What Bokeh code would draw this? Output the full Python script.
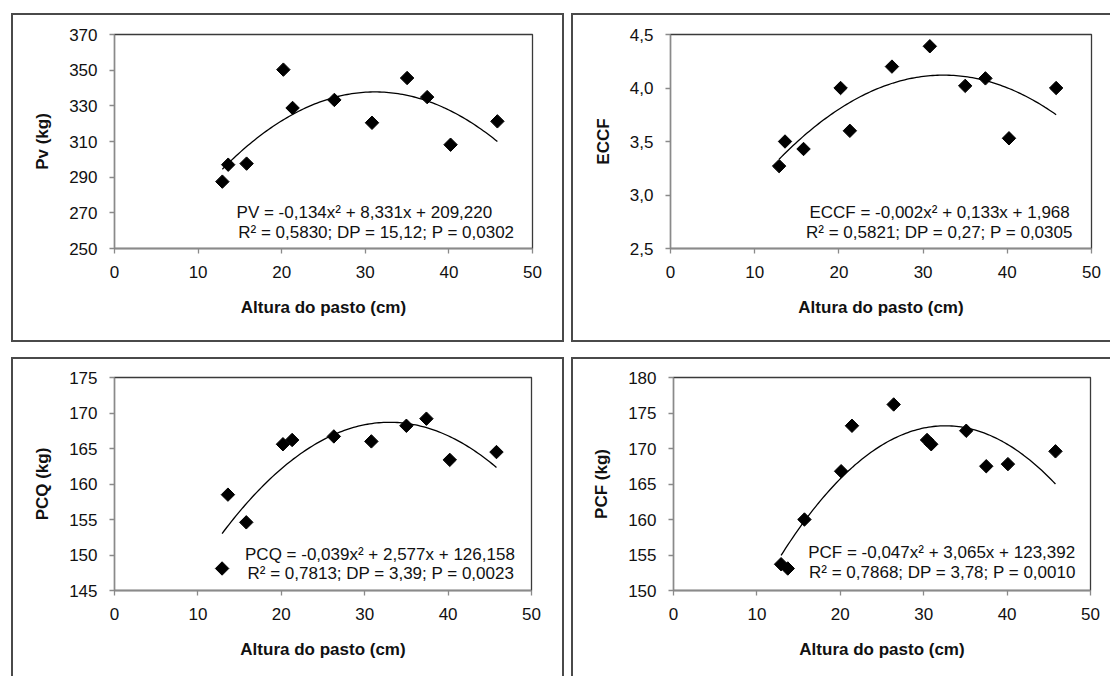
import numpy as np
from bokeh.plotting import figure
from bokeh.models import Range1d, FixedTicker, Label
from bokeh.layouts import row, column
from bokeh.embed import file_html
from bokeh.resources import INLINE

# ---------------- data ----------------
altura = [12.9, 13.6, 15.8, 20.2, 21.3, 26.3, 30.8, 35.0, 37.4, 40.2, 45.8]
pv = [287.5, 297.0, 297.6, 350.3, 328.8, 333.3, 320.5, 345.6, 334.9, 308.2, 321.3]
eccf = [3.27, 3.50, 3.43, 4.00, 3.60, 4.20, 4.39, 4.02, 4.09, 3.53, 4.00]
pcq = [148.1, 158.5, 154.6, 165.6, 166.2, 166.7, 166.0, 168.2, 169.2, 163.4, 164.5]
altura_pcf = [12.9, 13.7, 15.7, 20.1, 21.4, 26.4, 30.4, 30.9, 35.1, 37.5, 40.1, 45.8]
pcf = [153.7, 153.1, 160.0, 166.8, 173.2, 176.2, 171.2, 170.6, 172.5, 167.5, 167.8, 169.6]

x_ticks = [0, 10, 20, 30, 40, 50]
pv_ticks = [250, 270, 290, 310, 330, 350, 370]
eccf_ticks = [2.5, 3.0, 3.5, 4.0, 4.5]
eccf_tick_labels = ["2,5", "3,0", "3,5", "4,0", "4,5"]
pcq_ticks = [145, 150, 155, 160, 165, 170, 175]
pcf_ticks = [150, 155, 160, 165, 170, 175, 180]

x_title = "Altura do pasto (cm)"
pv_eq = ["PV = -0,134x\u00b2 + 8,331x + 209,220", "R\u00b2 = 0,5830; DP = 15,12; P = 0,0302"]
eccf_eq = ["ECCF = -0,002x\u00b2 + 0,133x + 1,968", "R\u00b2 = 0,5821; DP = 0,27; P = 0,0305"]
pcq_eq = ["PCQ = -0,039x\u00b2 + 2,577x + 126,158", "R\u00b2 = 0,7813; DP = 3,39; P = 0,0023"]
pcf_eq = ["PCF = -0,047x\u00b2 + 3,065x + 123,392", "R\u00b2 = 0,7868; DP = 3,78; P = 0,0010"]

FONT = "Liberation Sans"
BORDER = "2px solid #4a4a4a"


def panel(xs, ys, yr, yticks, ylabels, ytitle, eq, eq_pos, w, h, mb, margin, borders):
    p = figure(width=w, height=h, x_range=Range1d(0, 50), y_range=Range1d(*yr),
               output_backend="svg", toolbar_location=None,
               min_border_left=mb[0], min_border_right=mb[1],
               min_border_top=mb[2], min_border_bottom=mb[3],
               background_fill_color="white", border_fill_color="white",
               x_axis_label=x_title, y_axis_label=ytitle)
    p.outline_line_color = "#3a3a3a"
    p.outline_line_width = 1.3
    p.grid.visible = False
    p.xaxis.ticker = FixedTicker(ticks=x_ticks)
    p.yaxis.ticker = FixedTicker(ticks=yticks)
    if ylabels is not None:
        p.yaxis.major_label_overrides = {t: l for t, l in zip(yticks, ylabels)}
    for ax in (p.xaxis, p.yaxis):
        ax.axis_line_color = "#8a8a8a"
        ax.axis_line_width = 1.3
        ax.major_tick_line_color = "#8a8a8a"
        ax.major_tick_line_width = 1.3
        ax.major_tick_out = 5
        ax.major_tick_in = 0
        ax.minor_tick_line_color = None
        ax.major_label_text_font = FONT
        ax.major_label_text_font_size = "17px"
        ax.major_label_text_color = "#111111"
        ax.axis_label_text_font = FONT
        ax.axis_label_text_font_size = "17px"
        ax.axis_label_text_font_style = "bold"
        ax.axis_label_text_color = "#111111"
        ax.major_label_standoff = 12
    p.xaxis.axis_label_standoff = 17
    p.yaxis.axis_label_standoff = 14

    # trend line: least-squares quadratic of the plotted points
    coef = np.polyfit(xs, ys, 2)
    xc = np.linspace(min(xs), max(xs), 120)
    p.line(xc, np.polyval(coef, xc), line_color="black", line_width=1.3)

    p.scatter(xs, ys, marker="square", angle=np.pi / 4, size=9.5,
              fill_color="black", line_color="black")

    for i, txt in enumerate(eq):
        p.add_layout(Label(x=eq_pos[i][0], y=eq_pos[i][1], text=txt,
                           text_font=FONT, text_font_size="17px",
                           text_color="#111111", text_baseline="middle",
                           text_align="left"))
    p.margin = margin
    st = {"box-sizing": "content-box"}
    st.update(borders)
    p.styles = st
    return p


p1 = panel(altura, pv, (250, 370), pv_ticks, None, "Pv (kg)", pv_eq,
           [(14.6, 270.4), (14.8, 259.1)], 549, 325, (101, 34, 19, 96),
           (13, 0, 0, 11), {"border": BORDER})
p2 = panel(altura, eccf, (2.5, 4.5), eccf_ticks, eccf_tick_labels, "ECCF", eccf_eq,
           [(16.5, 2.84), (16.1, 2.65)], 537, 325, (97, 21, 19, 96),
           (13, 0, 0, 7), {"border-top": BORDER, "border-left": BORDER, "border-bottom": BORDER})
p3 = panel(altura, pcq, (145, 175), pcq_ticks, None, "PCQ (kg)", pcq_eq,
           [(15.65, 150.1), (15.95, 147.4)], 549, 317, (101, 35, 18, 86),
           (15, 0, 0, 11), {"border-top": BORDER, "border-left": BORDER, "border-right": BORDER})
p4 = panel(altura_pcf, pcf, (150, 180), pcf_ticks, None, "PCF (kg)", pcf_eq,
           [(16.15, 155.4), (16.25, 152.6)], 537, 317, (100, 22, 16, 88),
           (15, 0, 0, 7), {"border-top": BORDER, "border-left": BORDER})

layout = column(row(p1, p2), row(p3, p4))
open("out.html", "w").write(file_html(layout, INLINE))
